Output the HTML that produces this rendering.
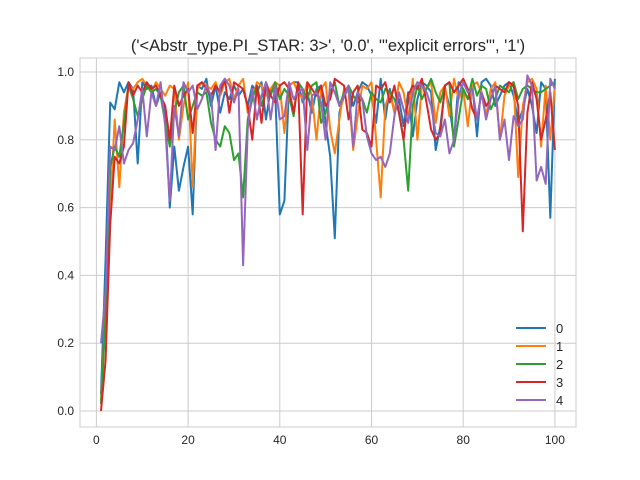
<!DOCTYPE html>
<html><head><meta charset="utf-8"><style>
body{margin:0;background:#fff;}
svg{display:block;font-family:"Liberation Sans",sans-serif;}
</style></head><body>
<svg id="chart" width="640" height="480">
<rect width="640" height="480" fill="#fff"/>
<text x="328" y="51" font-size="16.5" text-anchor="middle" fill="#262626">('&lt;Abstr_type.PI_STAR: 3&gt;', '0.0', '"explicit errors"', '1')</text>
<g id="grid"></g><g id="series"></g><g id="legend"></g>
<rect x="80" y="58" width="496" height="369" fill="none" stroke="#ccc" stroke-width="1"/>
</svg>
<script>
const xTicks=[0,20,40,60,80,100];
const yTicks=[0.0,0.2,0.4,0.6,0.8,1.0];
const yTickLabels=["0.0","0.2","0.4","0.6","0.8","1.0"];
const seriesNames=["0","1","2","3","4"];
const s0=[0.05,0.45,0.91,0.89,0.97,0.94,0.97,0.95,0.73,0.97,0.95,0.96,0.90,0.94,0.88,0.60,0.78,0.65,0.72,0.78,0.58,0.96,0.95,0.98,0.90,0.96,0.88,0.94,0.92,0.96,0.93,0.95,0.90,0.96,0.94,0.97,0.86,0.95,0.94,0.58,0.62,0.96,0.97,0.97,0.91,0.94,0.88,0.95,0.96,0.85,0.75,0.51,0.88,0.93,0.95,0.90,0.94,0.97,0.96,0.93,0.85,0.98,0.86,0.95,0.88,0.92,0.84,0.94,0.81,0.92,0.97,0.96,0.94,0.77,0.84,0.95,0.90,0.80,0.97,0.95,0.92,0.96,0.81,0.97,0.98,0.96,0.90,0.93,0.96,0.97,0.93,0.85,0.89,0.95,0.90,0.82,0.97,0.95,0.57,0.98];
const s1=[0.03,0.30,0.60,0.86,0.66,0.88,0.96,0.95,0.97,0.98,0.96,0.94,0.97,0.95,0.93,0.96,0.95,0.80,0.90,0.97,0.66,0.95,0.97,0.96,0.95,0.97,0.93,0.97,0.98,0.92,0.96,0.98,0.88,0.92,0.97,0.96,0.93,0.95,0.97,0.96,0.82,0.96,0.97,0.94,0.92,0.97,0.93,0.80,0.95,0.97,0.83,0.76,0.86,0.95,0.94,0.77,0.87,0.96,0.95,0.97,0.80,0.63,0.90,0.94,0.88,0.97,0.94,0.86,0.98,0.80,0.96,0.95,0.97,0.85,0.94,0.96,0.87,0.98,0.92,0.95,0.84,0.96,0.97,0.94,0.87,0.95,0.97,0.80,0.93,0.96,0.97,0.69,0.90,0.97,0.98,0.95,0.78,0.96,0.80,0.96];
const s2=[0.02,0.28,0.72,0.78,0.75,0.85,0.96,0.92,0.87,0.92,0.96,0.94,0.95,0.93,0.85,0.78,0.88,0.94,0.96,0.86,0.90,0.94,0.93,0.94,0.85,0.80,0.78,0.84,0.82,0.74,0.76,0.63,0.86,0.92,0.96,0.90,0.95,0.93,0.97,0.92,0.95,0.93,0.87,0.97,0.95,0.92,0.96,0.97,0.85,0.88,0.94,0.97,0.90,0.94,0.96,0.93,0.91,0.92,0.88,0.94,0.92,0.91,0.95,0.94,0.92,0.88,0.80,0.65,0.90,0.96,0.92,0.95,0.98,0.94,0.91,0.96,0.97,0.78,0.86,0.95,0.92,0.98,0.93,0.96,0.95,0.89,0.92,0.96,0.95,0.94,0.97,0.92,0.95,0.96,0.95,0.94,0.94,0.95,0.96,0.97];
const s3=[0.00,0.15,0.55,0.75,0.73,0.78,0.97,0.93,0.96,0.94,0.97,0.95,0.96,0.93,0.90,0.80,0.96,0.90,0.93,0.95,0.82,0.96,0.97,0.95,0.93,0.96,0.94,0.98,0.88,0.97,0.96,0.95,0.90,0.80,0.96,0.85,0.97,0.93,0.91,0.96,0.97,0.95,0.88,0.97,0.58,0.97,0.95,0.93,0.96,0.90,0.92,0.98,0.97,0.96,0.86,0.94,0.96,0.83,0.82,0.78,0.96,0.95,0.97,0.91,0.96,0.88,0.80,0.93,0.96,0.95,0.98,0.91,0.83,0.80,0.82,0.96,0.97,0.94,0.96,0.98,0.95,0.89,0.86,0.94,0.90,0.92,0.96,0.95,0.94,0.97,0.96,0.90,0.53,0.88,0.97,0.92,0.80,0.86,0.94,0.77];
const s4=[0.20,0.35,0.78,0.77,0.84,0.73,0.77,0.79,0.86,0.95,0.81,0.94,0.90,0.97,0.84,0.62,0.90,0.81,0.97,0.94,0.96,0.89,0.92,0.96,0.93,0.77,0.96,0.98,0.96,0.91,0.95,0.43,0.83,0.95,0.86,0.93,0.97,0.86,0.96,0.86,0.87,0.97,0.92,0.94,0.95,0.77,0.93,0.94,0.91,0.80,0.97,0.94,0.90,0.93,0.96,0.78,0.94,0.92,0.81,0.76,0.74,0.75,0.72,0.76,0.87,0.94,0.89,0.85,0.94,0.97,0.96,0.94,0.90,0.82,0.81,0.86,0.76,0.80,0.93,0.97,0.94,0.95,0.86,0.94,0.86,0.92,0.96,0.80,0.86,0.74,0.87,0.84,0.86,0.99,0.96,0.68,0.72,0.67,0.98,0.95];
const allSeries=[s0,s1,s2,s3,s4];
const colors=["#1f77b4","#ff7f0e","#2ca02c","#d62728","#9467bd"];
const NS="http://www.w3.org/2000/svg";
function xs(v){return 96.4+v*4.585;}
function ys(v){return 411-v*339;}
function mk(tag,attrs,parent){const e=document.createElementNS(NS,tag);for(const k in attrs)e.setAttribute(k,attrs[k]);parent.appendChild(e);return e;}
const grid=document.getElementById('grid');
xTicks.forEach(t=>{
  const l=mk('line',{x1:xs(t),x2:xs(t),y1:58,y2:427,stroke:'#ccc','stroke-width':1},grid);
  
  
  const tx=mk('text',{x:xs(t),y:444,'font-size':12,'text-anchor':'middle',fill:'#262626'},grid);
  tx.textContent=String(t);
  
  
});
yTicks.forEach((t,i)=>{
  const l=mk('line',{x1:80,x2:576,y1:ys(t),y2:ys(t),stroke:'#ccc','stroke-width':1},grid);
  
  
  const tx=mk('text',{x:74,y:ys(t)+4,'font-size':12,'text-anchor':'end',fill:'#262626'},grid);
  tx.textContent=yTickLabels[i];
  
  
});
const sg=document.getElementById('series');
allSeries.forEach((s,k)=>{
  const pts=s.map((v,i)=>xs(i+1).toFixed(1)+','+ys(v).toFixed(1)).join(' ');
  const p=mk('polyline',{points:pts,fill:'none',stroke:colors[k],'stroke-width':2,'stroke-linejoin':'round'},sg);
  
  
});
const lg=document.getElementById('legend');
seriesNames.forEach((n,k)=>{
  const y=328+k*18;
  const l=mk('line',{x1:516,x2:546,y1:y,y2:y,stroke:colors[k],'stroke-width':2},lg);
  
  
  const t=mk('text',{x:556,y:y+5,'font-size':13,fill:'#262626'},lg);
  t.textContent=n;
  
  
});
</script>
</body></html>
